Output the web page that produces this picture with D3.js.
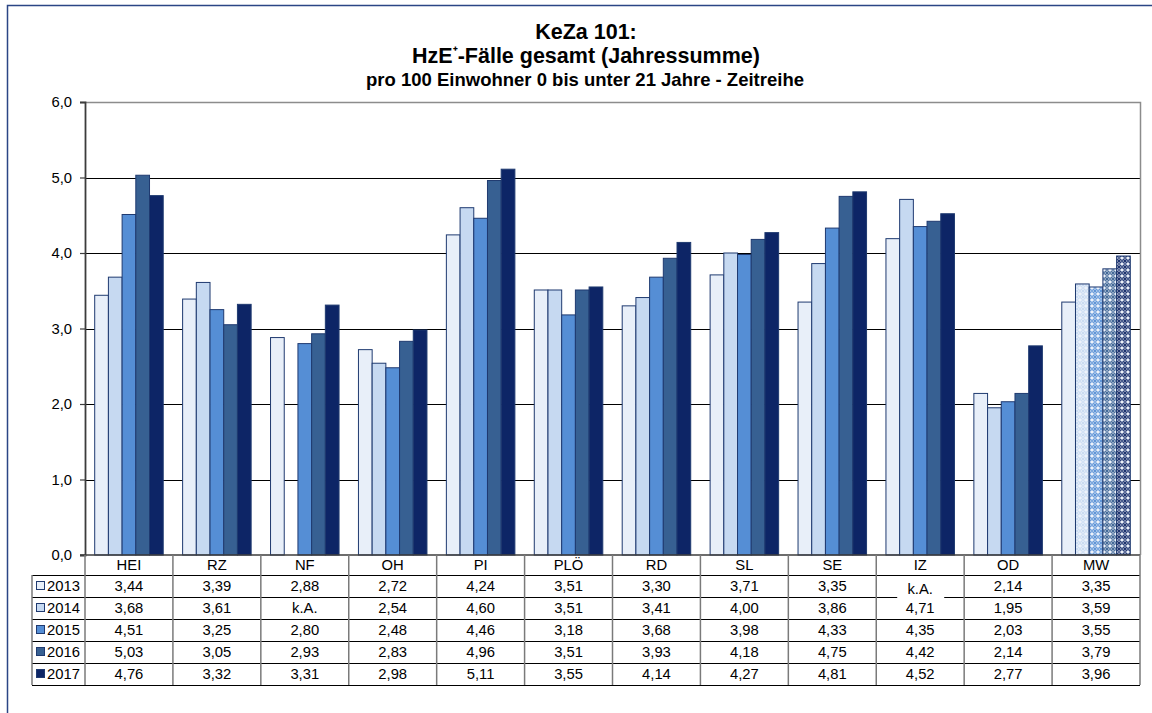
<!DOCTYPE html>
<html>
<head>
<meta charset="utf-8">
<script src="https://cdn.jsdelivr.net/npm/d3@7"></script>
<style>
  html, body { margin: 0; padding: 0; background: #fff; }
  svg { display: block; font-family: "Liberation Sans", Arial, sans-serif; }
</style>
</head>
<body>
<div id="chart"></div>
<script>
// KeZa 101 - HzE+ cases per 100 inhabitants, grouped bars with data table
const categories = ["HEI", "RZ", "NF", "OH", "PI", "PLÖ", "RD", "SL", "SE", "IZ", "OD", "MW"];
const years = ["2013", "2014", "2015", "2016", "2017"];

const values2013 = [3.44, 3.39, 2.88, 2.72, 4.24, 3.51, 3.30, 3.71, 3.35, 4.19, 2.14, 3.35];
const values2014 = [3.68, 3.61, null, 2.54, 4.60, 3.51, 3.41, 4.00, 3.86, 4.71, 1.95, 3.59];
const values2015 = [4.51, 3.25, 2.80, 2.48, 4.46, 3.18, 3.68, 3.98, 4.33, 4.35, 2.03, 3.55];
const values2016 = [5.03, 3.05, 2.93, 2.83, 4.96, 3.51, 3.93, 4.18, 4.75, 4.42, 2.14, 3.79];
const values2017 = [4.76, 3.32, 3.31, 2.98, 5.11, 3.55, 4.14, 4.27, 4.81, 4.52, 2.77, 3.96];

// cells whose table text is covered by a "k.A." box although a bar is drawn
const kaOverlays = [{ year: "2013", cat: "IZ" }];

const yTicks = [0, 1, 2, 3, 4, 5, 6];
const titleLine1 = "KeZa 101:";
const titleLine2 = ["HzE", "⁺", "-Fälle gesamt (Jahressumme)"];
const titleLine3 = "pro 100 Einwohner 0 bis unter 21 Jahre - Zeitreihe";

const seriesValues = [values2013, values2014, values2015, values2016, values2017];
const seriesColors = ["#e8eff9", "#c6d9f1", "#558ed5", "#376092", "#0d2566"];
const barStroke = "#1f3a70";
const patternedCategory = "MW";

const width = 1152, height = 713;
const plot = { left: 85, right: 1140, top: 102, bottom: 555 };
const table = { left: 32, headerBottom: 575, rowHeight: 22 };
const fmt = (v) => v.toFixed(2).replace(".", ",");

const svg = d3.select("#chart").append("svg")
  .attr("width", width)
  .attr("height", height);

// sphere-like fill patterns for the mean (MW) bars
const defs = svg.append("defs");
seriesColors.forEach((c, i) => {
  const p = defs.append("pattern")
    .attr("id", "sph" + i)
    .attr("patternUnits", "userSpaceOnUse")
    .attr("width", 6).attr("height", 6);
  p.append("rect").attr("width", 6).attr("height", 6).attr("fill", "#eef3fb");
  p.append("circle").attr("cx", 3).attr("cy", 3).attr("r", 2.8).attr("fill", c);
  p.append("circle").attr("cx", 3).attr("cy", 3).attr("r", 1.6).attr("fill", "none")
    .attr("stroke", "#fff").attr("stroke-width", 0.8).attr("opacity", 0.6);
});

// outer frame (right/bottom lie outside the picture)
svg.append("rect")
  .attr("x", 7.5).attr("y", 5.5)
  .attr("width", 1160).attr("height", 720)
  .attr("fill", "none")
  .attr("stroke", "#2b4585")
  .attr("stroke-width", 1.5);

// title
const titleG = svg.append("g").attr("text-anchor", "middle").attr("font-weight", "bold").attr("fill", "#000");
titleG.append("text").attr("x", 586).attr("y", 39).attr("font-size", "21.5px").text(titleLine1);
const t2 = titleG.append("text").attr("x", 586).attr("y", 63).attr("font-size", "21.5px");
t2.append("tspan").text(titleLine2[0]);
t2.append("tspan").attr("font-size", "14px").attr("dy", -6).text(titleLine2[1]);
t2.append("tspan").attr("dy", 6).text(titleLine2[2]);
titleG.append("text").attr("x", 585).attr("y", 86).attr("font-size", "18.5px").text(titleLine3);

const x = d3.scaleBand()
  .domain(categories)
  .range([plot.left, plot.right])
  .padding(0);

const groupGap = 9.7;
const xInner = d3.scaleBand()
  .domain(years)
  .range([groupGap, x.bandwidth() - groupGap])
  .padding(0);

const y = d3.scaleLinear()
  .domain([0, 6])
  .range([plot.bottom, plot.top]);

// gridlines
svg.append("g")
  .selectAll("line")
  .data(yTicks.filter((t) => t > 0 && t < 6))
  .join("line")
  .attr("x1", plot.left).attr("x2", plot.right)
  .attr("y1", (d) => Math.round(y(d)) + 0.5).attr("y2", (d) => Math.round(y(d)) + 0.5)
  .attr("stroke", "#000")
  .attr("stroke-width", 1);

// plot border top/right
svg.append("path")
  .attr("d", `M${plot.left},${Math.round(y(6)) + 0.5}H${plot.right + 0.5}V${plot.bottom}`)
  .attr("fill", "none")
  .attr("stroke", "#8c8c8c")
  .attr("stroke-width", 1.5);

// bars
const barsG = svg.append("g");
years.forEach((yr, si) => {
  barsG.append("g")
    .selectAll("rect")
    .data(categories.map((c, ci) => ({ cat: c, v: seriesValues[si][ci] })).filter((d) => d.v != null))
    .join("rect")
    .attr("x", (d) => x(d.cat) + xInner(yr))
    .attr("y", (d) => y(d.v))
    .attr("width", xInner.bandwidth())
    .attr("height", (d) => y(0) - y(d.v))
    .attr("fill", (d) => (d.cat === patternedCategory && si > 0 ? `url(#sph${si})` : seriesColors[si]))
    .attr("stroke", barStroke)
    .attr("stroke-width", 1);
});

// y axis
const yAxis = d3.axisLeft(y)
  .tickValues(yTicks)
  .tickSize(5)
  .tickPadding(8)
  .tickFormat((d) => d3.format(".1f")(d).replace(".", ","));

svg.append("g")
  .attr("transform", `translate(${plot.left},0)`)
  .call(yAxis)
  .call((g) => g.select(".domain").attr("stroke", "#3c3c3c").attr("stroke-width", 1.8))
  .call((g) => g.selectAll(".tick line").attr("stroke", "#3c3c3c").attr("stroke-width", 1.2))
  .call((g) => g.selectAll(".tick text")
    .attr("fill", "#000")
    .attr("font-size", "14.8px")
    .attr("font-family", "Liberation Sans, Arial, sans-serif"));

// x axis baseline
svg.append("line")
  .attr("x1", plot.left - 5).attr("x2", plot.right)
  .attr("y1", plot.bottom).attr("y2", plot.bottom)
  .attr("stroke", "#3c3c3c")
  .attr("stroke-width", 1.5);

// data table
const tableG = svg.append("g").attr("font-size", "14.8px").attr("fill", "#000");
const rowY = (i) => table.headerBottom + i * table.rowHeight;
const tableBottom = rowY(years.length);

// horizontal lines
years.forEach((yr, i) => {
  tableG.append("line")
    .attr("x1", table.left).attr("x2", plot.right)
    .attr("y1", rowY(i) + 0.5).attr("y2", rowY(i) + 0.5)
    .attr("stroke", "#000").attr("stroke-width", 1);
});
tableG.append("line")
  .attr("x1", table.left).attr("x2", plot.right)
  .attr("y1", tableBottom + 0.5).attr("y2", tableBottom + 0.5)
  .attr("stroke", "#000").attr("stroke-width", 1.2);

// vertical lines
const vx = categories.map((c) => x(c)).concat([plot.right]);
tableG.selectAll("line.v")
  .data(vx)
  .join("line")
  .attr("class", "v")
  .attr("x1", (d) => d).attr("x2", (d) => d)
  .attr("y1", plot.bottom).attr("y2", tableBottom)
  .attr("stroke", "#7a7a7a").attr("stroke-width", 1.5);
tableG.append("line")
  .attr("x1", table.left).attr("x2", table.left)
  .attr("y1", table.headerBottom).attr("y2", tableBottom)
  .attr("stroke", "#7a7a7a").attr("stroke-width", 1.5);

// header row
tableG.selectAll("text.cat")
  .data(categories)
  .join("text")
  .attr("class", "cat")
  .attr("x", (d) => x(d) + x.bandwidth() / 2)
  .attr("y", plot.bottom + 15)
  .attr("text-anchor", "middle")
  .text((d) => d);

// value rows
years.forEach((yr, si) => {
  const ry = rowY(si);
  const leg = tableG.append("g");
  leg.append("rect")
    .attr("x", 36.5).attr("y", ry + 6.5)
    .attr("width", 8).attr("height", 8)
    .attr("fill", seriesColors[si])
    .attr("stroke", barStroke).attr("stroke-width", 1);
  leg.append("text")
    .attr("x", 47).attr("y", ry + 16)
    .text(yr);

  tableG.append("g")
    .selectAll("text")
    .data(categories.map((c, ci) => ({ cat: c, v: seriesValues[si][ci] })))
    .join("text")
    .attr("x", (d) => x(d.cat) + x.bandwidth() / 2)
    .attr("y", ry + 16)
    .attr("text-anchor", "middle")
    .text((d) => {
      if (kaOverlays.some((k) => k.year === yr && k.cat === d.cat)) return "";
      return d.v == null ? "k.A." : fmt(d.v);
    });
});

// "k.A." text boxes laid over the table
kaOverlays.forEach((k) => {
  const si = years.indexOf(k.year);
  const cx = x(k.cat) + x.bandwidth() / 2;
  const ry = rowY(si);
  tableG.append("rect")
    .attr("x", cx - 23).attr("y", ry + 4)
    .attr("width", 47).attr("height", 20)
    .attr("fill", "#fff");
  tableG.append("text")
    .attr("x", cx).attr("y", ry + 19)
    .attr("text-anchor", "middle")
    .text("k.A.");
});
</script>
</body>
</html>
